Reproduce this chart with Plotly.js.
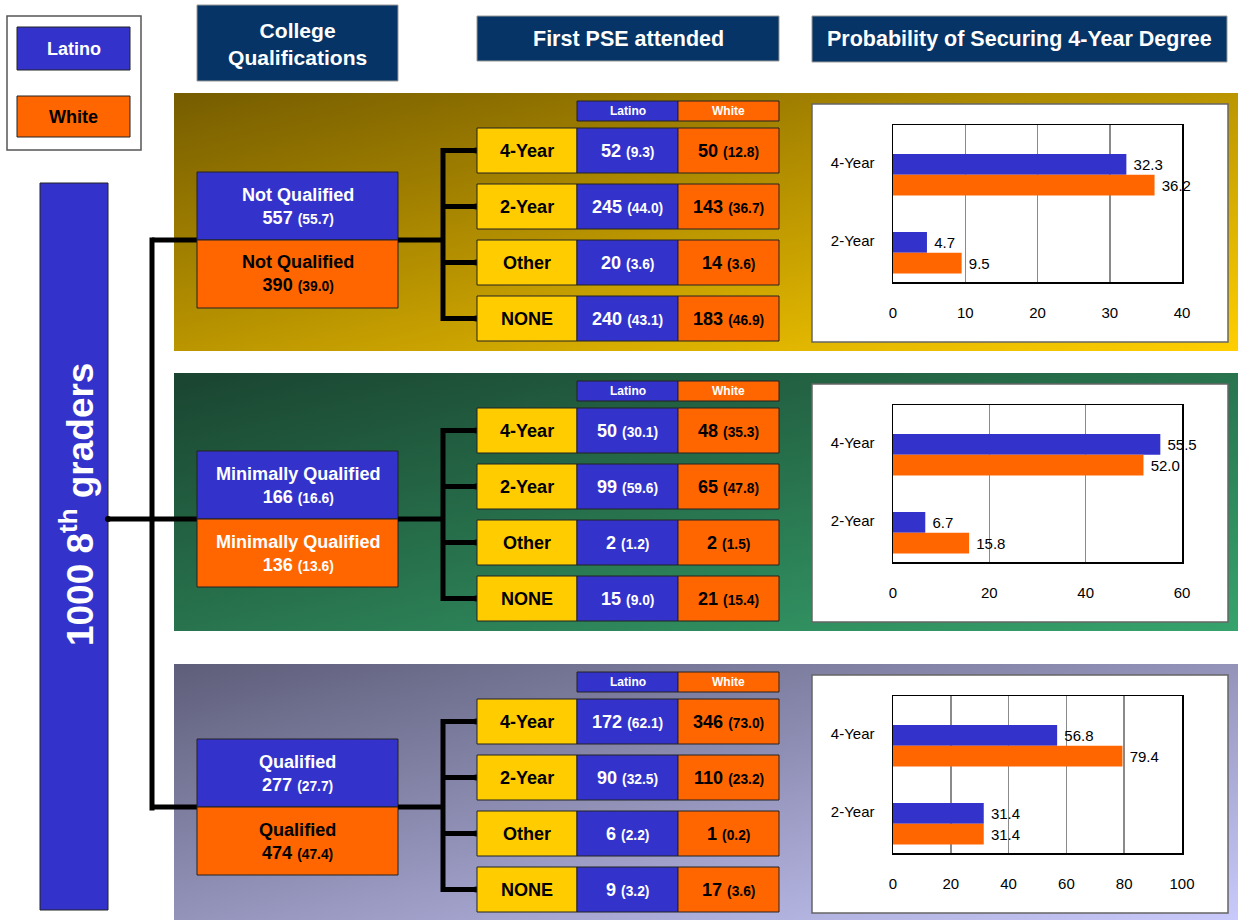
<!DOCTYPE html>
<html><head><meta charset="utf-8">
<script src="https://cdn.plot.ly/plotly-3.0.1.min.js"></script>
<style>html,body{margin:0;padding:0;background:#fff}#chart{width:1238px;height:920px}</style>
</head><body><div id="chart"></div>
<script>
// ---------------- DATA ----------------
const groups = ['Latino', 'White'];
const levels = ['Not Qualified', 'Minimally Qualified', 'Qualified'];
const latinoQualN = [557, 166, 277];
const latinoQualPct = [55.7, 16.6, 27.7];
const whiteQualN = [390, 136, 474];
const whiteQualPct = [39.0, 13.6, 47.4];
const pseTypes = ['4-Year', '2-Year', 'Other', 'NONE'];
const latinoPseN = [[52, 245, 20, 240], [50, 99, 2, 15], [172, 90, 6, 9]];
const latinoPsePct = [[9.3, 44.0, 3.6, 43.1], [30.1, 59.6, 1.2, 9.0], [62.1, 32.5, 2.2, 3.2]];
const whitePseN = [[50, 143, 14, 183], [48, 65, 2, 21], [346, 110, 1, 17]];
const whitePsePct = [[12.8, 36.7, 3.6, 46.9], [35.3, 47.8, 1.5, 15.4], [73.0, 23.2, 0.2, 3.6]];
const degreeTypes = ['4-Year', '2-Year'];
const latinoProb = [[32.3, 4.7], [55.5, 6.7], [56.8, 31.4]];
const whiteProb = [[36.2, 9.5], [52.0, 15.8], [79.4, 31.4]];
const probAxisMax = [40, 60, 100];
const probAxisStep = [10, 20, 20];
const totalLabel = '1000 8<sup>th</sup> graders';
const headerTexts = ['College<br>Qualifications', 'First PSE attended', 'Probability of Securing 4-Year Degree'];

// ---------------- STYLE / LAYOUT ----------------
function hasFont(name) {
  const c = document.createElement('canvas').getContext('2d');
  const s = 'Not Qualified 0123456789';
  c.font = 'bold 20px monospace'; const a = c.measureText(s).width;
  c.font = 'bold 20px "' + name + '", monospace'; const b = c.measureText(s).width;
  return Math.abs(a - b) > 0.5;
}
const NARROW = hasFont('Liberation Sans Narrow');
const FONT = NARROW ? '"Liberation Sans Narrow", "Liberation Sans", Arial, sans-serif' : '"Liberation Sans", Arial, sans-serif';
const S = NARROW ? 1 : 0.86;
const CHART_FONT = 15;
const BLUE = '#3333cc', ORANGE = '#ff6600', YELLOW = '#ffcc00', NAVY = '#063466', EDGE = '#222';
const W = 1238, H = 920;
const px = x => x / W, py = y => 1 - y / H;
const panelTop = [93, 373, 664];
const panelH = [258, 258, 256];
const panelGrad = [['#765c00', '#ffcf00'], ['#1a4430', '#36a36c'], ['#5e5e7a', '#c9c9fb']];
const qualMidY = [240, 519, 807];
const whiteBoxText = ['#000', '#fff', '#000'];
const barOffset = [-0.115, 0.152];
const barWidth = 0.265;
const shapes = [], annotations = [], images = [];

function rect(x0, y0, x1, y1, fill, line, lw) {
  shapes.push({type: 'rect', xref: 'paper', yref: 'paper', x0: px(x0), x1: px(x1), y0: py(y1), y1: py(y0),
    fillcolor: fill, line: {color: line || 'rgba(0,0,0,0)', width: lw == null ? 1 : lw}, layer: 'below'});
}
function seg(x0, y0, x1, y1, w) {
  shapes.push({type: 'line', xref: 'paper', yref: 'paper', x0: px(x0), x1: px(x1), y0: py(y0), y1: py(y1),
    line: {color: '#000', width: w || 5}, layer: 'below'});
}
function dot(x, y, r) {
  shapes.push({type: 'circle', xref: 'paper', yref: 'paper', x0: px(x - r), x1: px(x + r), y0: py(y + r), y1: py(y - r),
    fillcolor: '#000', line: {width: 0}, layer: 'below'});
}
function label(x, y, text, size, color, extra) {
  annotations.push(Object.assign({xref: 'paper', yref: 'paper', x: px(x), y: py(y), text: text, showarrow: false,
    xanchor: 'center', yanchor: 'middle', font: {family: FONT, size: size * S, color: color, weight: 'bold'}}, extra || {}));
}
function grad(c0, c1) {
  const s = '<svg xmlns="http://www.w3.org/2000/svg" width="400" height="100" viewBox="0 0 400 100" preserveAspectRatio="none">' +
    '<defs><linearGradient id="g" x1="0" y1="0" x2="1" y2="1"><stop offset="0" stop-color="' + c0 + '"/>' +
    '<stop offset="1" stop-color="' + c1 + '"/></linearGradient></defs><rect width="400" height="100" fill="url(#g)"/></svg>';
  return 'data:image/svg+xml;charset=utf-8,' + encodeURIComponent(s);
}
const valText = (n, p, small) => n + ' <span style="font-size:' + (small * S).toFixed(1) + 'px">(' + p.toFixed(1) + ')</span>';

// legend box
rect(7, 16, 141, 150, '#fff', '#555', 1.5);
rect(17, 27, 130, 70, BLUE, EDGE, 1);
rect(17, 96, 130, 137, ORANGE, EDGE, 1);
label(73.5, 48.5, groups[0], 21, '#fff');
label(73.5, 116.5, groups[1], 21, '#000');

// headers
rect(197, 5, 398, 81, NAVY, '#999', 1);
rect(477, 16, 779, 61, NAVY, '#999', 1);
rect(812, 16, 1227, 62, NAVY, '#999', 1);
label(297.5, 44, headerTexts[0], 24.5, '#fff');
label(628, 39, headerTexts[1], 25, '#fff');
label(1019.5, 39, headerTexts[2], 25, '#fff');

// big total bar
rect(40, 183, 108, 910, BLUE, EDGE, 1);
label(77, 505, totalLabel, 43, '#fff', {textangle: -90});

// left tree
seg(152, 237.5, 152, 810.5);
seg(152, qualMidY[0], 197, qualMidY[0]);
seg(108, qualMidY[1], 197, qualMidY[1]);
seg(152, qualMidY[2], 197, qualMidY[2]);
dot(108, qualMidY[1], 3);

const traces = [];
levels.forEach((lv, i) => {
  const T = panelTop[i];
  images.push({source: grad(panelGrad[i][0], panelGrad[i][1]), xref: 'paper', yref: 'paper',
    x: px(174), y: py(T), sizex: px(1238) - px(174), sizey: panelH[i] / H, sizing: 'stretch',
    xanchor: 'left', yanchor: 'top', layer: 'below'});

  // qualification boxes
  const m = qualMidY[i];
  rect(197, m - 68, 398, m, BLUE, EDGE, 1);
  rect(197, m, 398, m + 68, ORANGE, EDGE, 1);
  label(297.5, m - 34, lv + '<br>' + valText(latinoQualN[i], latinoQualPct[i], 16), 21, '#fff');
  label(297.5, m + 34, lv + '<br>' + valText(whiteQualN[i], whiteQualPct[i], 16), 21, whiteBoxText[i]);

  // PSE table
  rect(577, T + 8, 678, T + 28, BLUE, EDGE, 1);
  rect(678, T + 8, 779, T + 28, ORANGE, EDGE, 1);
  label(627.5, T + 18, groups[0], 14, '#fff');
  label(728.5, T + 18, groups[1], 14, '#fff');
  const rc = pseTypes.map((p, j) => T + 35 + 22.5 + 56 * j);
  seg(398, m, 443, m);
  seg(443, rc[0] - 2.5, 443, rc[3] + 2.5);
  pseTypes.forEach((p, j) => {
    const y0 = rc[j] - 22.5, y1 = rc[j] + 22.5;
    seg(443, rc[j], 476, rc[j]);
    dot(476, rc[j], 3);
    rect(477, y0, 577, y1, YELLOW, EDGE, 1);
    rect(577, y0, 678, y1, BLUE, EDGE, 1);
    rect(678, y0, 779, y1, ORANGE, EDGE, 1);
    label(527, rc[j], p, 21, '#000');
    label(627.5, rc[j], valText(latinoPseN[i][j], latinoPsePct[i][j], 16), 21, '#fff');
    label(728.5, rc[j], valText(whitePseN[i][j], whitePsePct[i][j], 16), 21, '#000');
  });

  // probability chart panel
  rect(812, T + 11, 1228, T + 249, '#fff', '#666', 1.5);
  const k = i === 0 ? '' : String(i + 1);
  [[latinoProb[i], BLUE, groups[0], barOffset[0]], [whiteProb[i], ORANGE, groups[1], barOffset[1]]].forEach(([vals, col, nm, off]) => {
    traces.push({type: 'bar', orientation: 'h', name: nm, x: vals, y: degreeTypes, xaxis: 'x' + k, yaxis: 'y' + k,
      offset: off, width: barWidth,
      marker: {color: col, line: {width: 0}}, texttemplate: '\u00a0%{x:.1f}', textposition: 'outside',
      textfont: {family: FONT, size: CHART_FONT, color: '#000'}, cliponaxis: false, constraintext: 'none', hoverinfo: 'skip'});
  });
});

const layout = {
  width: W, height: H, margin: {l: 0, r: 0, t: 0, b: 0}, paper_bgcolor: '#fff', plot_bgcolor: 'rgba(0,0,0,0)',
  showlegend: false, barmode: 'overlay',
  shapes: shapes, annotations: annotations, images: images
};
levels.forEach((lv, i) => {
  const k = i === 0 ? '' : String(i + 1);
  const top = panelTop[i] + 32, bot = panelTop[i] + 189;
  layout['xaxis' + k] = {domain: [893 / W, 1182 / W], anchor: 'y' + k, range: [0, probAxisMax[i]], tick0: 0, dtick: probAxisStep[i],
    showgrid: true, gridcolor: '#8a8a8a', gridwidth: 1.5, zeroline: false, showline: true, mirror: true, linecolor: '#000', linewidth: 1.5,
    ticks: '', ticklabelstandoff: 16, tickfont: {family: FONT, size: CHART_FONT, color: '#000'}, fixedrange: true};
  layout['yaxis' + k] = {domain: [1 - bot / H, 1 - top / H], anchor: 'x' + k, type: 'category', categoryorder: 'array', categoryarray: degreeTypes,
    range: [1.526, -0.487], showgrid: false, zeroline: false, showline: true, mirror: true, linecolor: '#000', linewidth: 1.5,
    ticks: '', ticklabelstandoff: 14, tickfont: {family: FONT, size: CHART_FONT, color: '#000'}, fixedrange: true};
});

Plotly.newPlot('chart', traces, layout, {displayModeBar: false, staticPlot: true});
</script></body></html>
